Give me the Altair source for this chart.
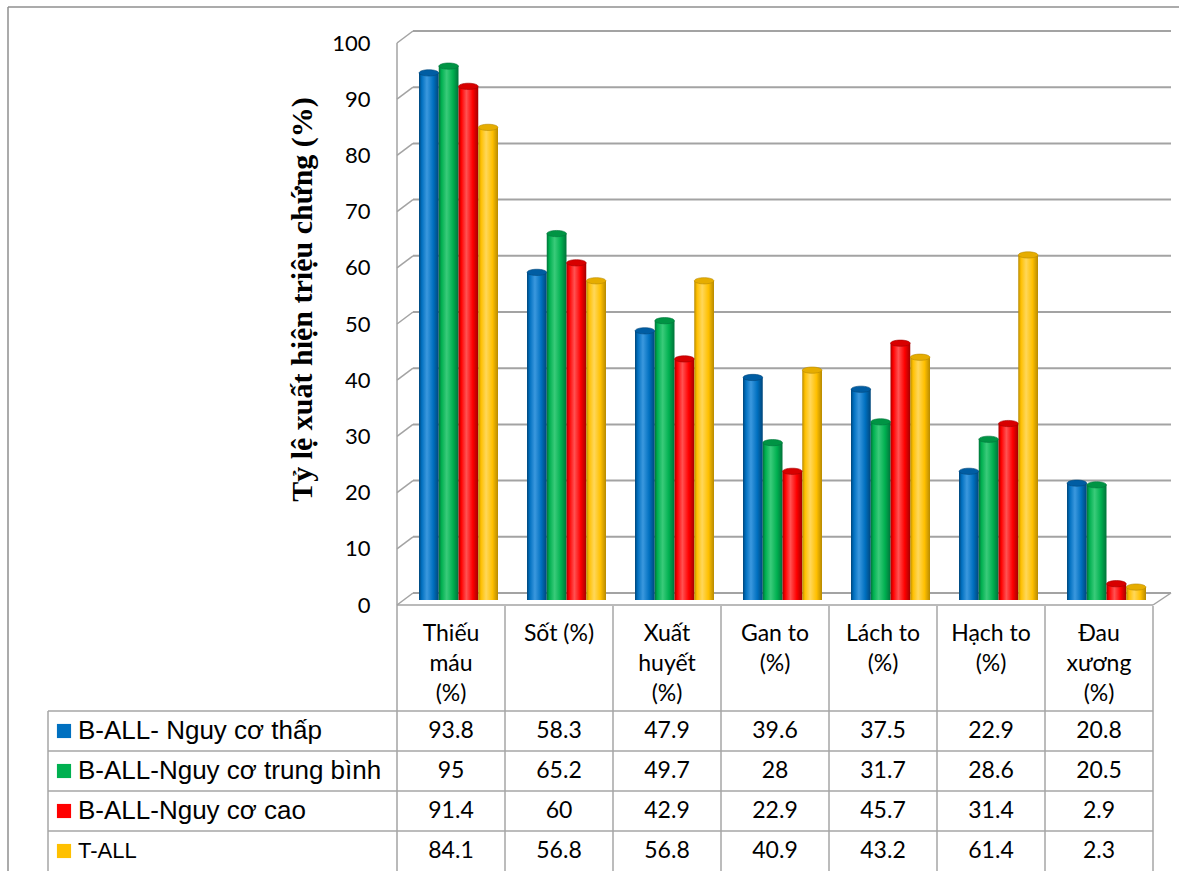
import altair as alt
import pandas as pd

# Symptom categories (columns of the data table) and their wrapped header text
categories = ["Thiếu máu (%)", "Sốt (%)", "Xuất huyết (%)", "Gan to (%)",
              "Lách to (%)", "Hạch to (%)", "Đau xương (%)"]
header_text = ["Thiếu\nmáu\n(%)", "Sốt (%)", "Xuất\nhuyết\n(%)", "Gan to\n(%)",
               "Lách to\n(%)", "Hạch to\n(%)", "Đau\nxương\n(%)"]

# Patient groups (rows of the data table)
series = ["B-ALL- Nguy cơ thấp", "B-ALL-Nguy cơ trung bình", "B-ALL-Nguy cơ cao", "T-ALL"]

# Symptom frequency (%) per group
b_all_low = [93.8, 58.3, 47.9, 39.6, 37.5, 22.9, 20.8]
b_all_mid = [95, 65.2, 49.7, 28, 31.7, 28.6, 20.5]
b_all_high = [91.4, 60, 42.9, 22.9, 45.7, 31.4, 2.9]
t_all = [84.1, 56.8, 56.8, 40.9, 43.2, 61.4, 2.3]

y_ticks = [0, 10, 20, 30, 40, 50, 60, 70, 80, 90, 100]

# Cylinder shading: edge, body and highlight tones for each group
base_colors = ["#0070C0", "#00B050", "#FF0000", "#FFC000"]
dark_colors = ["#00467a", "#00733a", "#a30000", "#b88a00"]
light_colors = ["#3b98de", "#3acb7a", "#ff5252", "#ffd75a"]
cap_colors = ["#005da3", "#009444", "#d80000", "#e6ad00"]

rows = []
for name, vals in zip(series, [b_all_low, b_all_mid, b_all_high, t_all]):
    for cat, v in zip(categories, vals):
        rows.append({"cat": cat, "series": name, "value": v})
data = pd.DataFrame(rows)
grid_df = pd.DataFrame({"v": y_ticks})
cat_df = pd.DataFrame({"cat": categories, "header": header_text})
series_df = pd.DataFrame({"series": series})
one = pd.DataFrame({"k": [0]})

W, H = 756, 562          # plot area (back wall of the 3-D box)
DEPTH_X, DEPTH_Y = 16, 12  # depth offset of the box walls
GRID = "#a3a3a3"

x_enc = alt.X("cat:N", scale=alt.Scale(domain=categories, type="band",
                                       paddingInner=0, paddingOuter=0), axis=None)
xo_enc = alt.XOffset("series:N", scale=alt.Scale(domain=series, range=[22, 101]))
y_scale = alt.Scale(domain=[0, 100], nice=False, zero=True)

y_axis = alt.Axis(values=y_ticks, title="Tỷ lệ xuất hiện triệu chứng (%)",
                  titleFont="Liberation Serif", titleFontSize=30, titleFontWeight="bold",
                  titleColor="black", titleAngle=270, titleX=-86, titleY=268,
                  titleAlign="center", titleBaseline="alphabetic",
                  labelFont="Lato", labelFontSize=22, labelColor="black",
                  labelPadding=27, labelOffset=12, labelFlush=False,
                  domain=False, ticks=False, tickSize=0, grid=False)

# --- 3-D box: back-wall gridlines, wall diagonals, floor -------------------
back_grid = alt.Chart(grid_df).mark_rule(color=GRID, strokeWidth=2).encode(
    y=alt.Y("v:Q", scale=y_scale, axis=y_axis),
    x=alt.value(DEPTH_X), x2=alt.value(W + 18))
wall_diag = alt.Chart(grid_df).mark_rule(color=GRID, strokeWidth=1.5,
                                         yOffset=DEPTH_Y, y2Offset=0).encode(
    y=alt.Y("v:Q", scale=y_scale), y2="v:Q",
    x=alt.value(0), x2=alt.value(DEPTH_X))
wall_left = alt.Chart(one).mark_rule(color=GRID, strokeWidth=1.5, yOffset=DEPTH_Y).encode(
    y=alt.datum(100, scale=y_scale), y2=alt.value(H + 278),
    x=alt.value(0))
floor_front = alt.Chart(one).mark_rule(color=GRID, strokeWidth=1.5, yOffset=DEPTH_Y).encode(
    y=alt.datum(0), x=alt.value(0), x2=alt.value(W))
floor_right = alt.Chart(one).mark_rule(color=GRID, strokeWidth=1.5,
                                       yOffset=DEPTH_Y, y2Offset=0).encode(
    y=alt.datum(0), y2=alt.datum(0), x=alt.value(W), x2=alt.value(W + 18))

# --- cylinders: shaded body plus elliptical top --------------------------
ELLIPSE = "M -1 0 A 1 0.32 0 1 1 1 0 A 1 0.32 0 1 1 -1 0 Z"
bars, caps = [], []
for name, base, dark, light, cap in zip(series, base_colors, dark_colors,
                                        light_colors, cap_colors):
    shade = alt.Gradient(gradient="linear", x1=0, x2=1, y1=0, y2=0, stops=[
        alt.GradientStop(color=dark, offset=0),
        alt.GradientStop(color=base, offset=0.14),
        alt.GradientStop(color=light, offset=0.4),
        alt.GradientStop(color=base, offset=0.72),
        alt.GradientStop(color=dark, offset=1)])
    sel = alt.Chart(data).transform_filter(alt.datum.series == name)
    bars.append(sel.mark_bar(color=shade, yOffset=7, y2Offset=7).encode(
        x=x_enc, xOffset=xo_enc, y=alt.Y("value:Q", scale=y_scale)))
    caps.append(sel.mark_point(shape=ELLIPSE, size=380, filled=True, fill=cap,
                               stroke=dark, strokeWidth=0.6, opacity=1,
                               yOffset=7).encode(
        x=x_enc, xOffset=xo_enc, y=alt.Y("value:Q", scale=y_scale)))

plot_group = alt.layer(back_grid, wall_diag, wall_left, floor_front, floor_right,
                       *bars, *caps)

# --- data table underneath -------------------------------------------------
row_scale = alt.Scale(domain=series, type="band", range=[H + 118, H + 278],
                      paddingInner=0, paddingOuter=0)
TABLE = "#a6a6a6"

col_lines = alt.Chart(cat_df).mark_rule(color=TABLE, strokeWidth=1.5).encode(
    x=alt.X("cat:N", bandPosition=1), y=alt.value(H + 13), y2=alt.value(H + 278))
row_lines = alt.Chart(series_df).mark_rule(color=TABLE, strokeWidth=1.5).encode(
    y=alt.Y("series:N", scale=row_scale, bandPosition=0, axis=None),
    x=alt.value(-349), x2=alt.value(W))
legend_border = alt.Chart(one).mark_rule(color=TABLE, strokeWidth=1.5).encode(
    x=alt.value(-349), y=alt.value(H + 118), y2=alt.value(H + 278))

headers = alt.Chart(cat_df).mark_text(font="Lato", fontSize=23, lineBreak="\n",
                                      lineHeight=30, baseline="alphabetic",
                                      color="black").encode(
    x="cat:N", y=alt.value(H + 48), text="header:N")
cells = alt.Chart(data).mark_text(font="Lato", fontSize=23, baseline="middle",
                                  color="black").encode(
    x="cat:N", y=alt.Y("series:N", scale=row_scale, axis=None),
    text=alt.Text("value:Q", format="~g"))
keys = alt.Chart(series_df).mark_square(size=200, opacity=1).encode(
    x=alt.value(-333), y=alt.Y("series:N", scale=row_scale, axis=None),
    color=alt.Color("series:N", scale=alt.Scale(domain=series, range=base_colors),
                    legend=None))
key_labels = alt.Chart(series_df).mark_text(font="Liberation Sans", align="left",
                                            baseline="middle", color="black").encode(
    x=alt.value(-319), y=alt.Y("series:N", scale=row_scale, axis=None),
    text="series:N",
    size=alt.condition(alt.datum.series == "T-ALL", alt.value(22), alt.value(26)))

table_group = alt.layer(col_lines, row_lines, legend_border, headers, cells,
                        keys, key_labels)

# --- chart frame -----------------------------------------------------------
frame_top = alt.Chart(one).mark_rule(color="#8f8f8f", strokeWidth=1.5).encode(
    x=alt.value(-389), x2=alt.value(W + 26), y=alt.value(-24))
frame_left = alt.Chart(one).mark_rule(color="#8f8f8f", strokeWidth=1.5).encode(
    x=alt.value(-389), y=alt.value(-24), y2=alt.value(H + 278))

chart = alt.layer(plot_group, table_group, frame_top, frame_left).resolve_scale(
    y="independent"
).properties(
    width=W, height=H,
    autosize=alt.AutoSizeParams(type="none"),
    padding={"left": 397, "top": 31, "right": 26, "bottom": 278},
    background="white",
).configure_view(stroke=None)

chart.save("out.html", embed_options={"renderer": "svg", "actions": False})
